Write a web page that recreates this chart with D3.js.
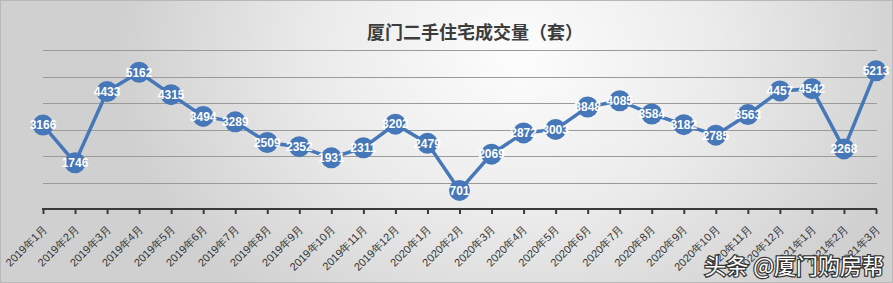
<!DOCTYPE html>
<html lang="zh">
  <head>
    <meta charset="UTF-8" />
    <title>厦门二手住宅成交量</title>
    <style>
      body { margin: 0; }
      #viz { width: 893px; height: 283px; }
    </style>
  </head>
  <body>
    <div id="viz"></div>
    <script src="https://cdnjs.cloudflare.com/ajax/libs/d3/7.8.5/d3.min.js"></script>
    <script>
      // months on the category axis
      let months = [
        "2019年1月", "2019年2月", "2019年3月", "2019年4月", "2019年5月", "2019年6月",
        "2019年7月", "2019年8月", "2019年9月", "2019年10月", "2019年11月", "2019年12月",
        "2020年1月", "2020年2月", "2020年3月", "2020年4月", "2020年5月", "2020年6月",
        "2020年7月", "2020年8月", "2020年9月", "2020年10月", "2020年11月", "2020年12月",
        "2021年1月", "2021年2月", "2021年3月"
      ];
      // second-hand housing deals (units)
      let deals = [
        3166, 1746, 4433, 5162, 4315, 3494, 3289, 2509, 2352, 1931, 2311, 3202,
        2479, 701, 2069, 2872, 3003, 3848, 4085, 3584, 3182, 2785, 3563, 4457,
        4542, 2268, 5213
      ];
      let gridTicks = [1000, 2000, 3000, 4000, 5000, 6000];

      let width = 893,
          height = 283,
          blue = "#4677b8";

      let data = months.map((m, i) => ({ month: m, value: deals[i] }));

      let svg = d3.select("#viz")
        .append("svg")
        .attr("width", width)
        .attr("height", height)
        .style("font-family", "'Noto Sans CJK SC', 'Noto Sans', sans-serif");

      let defs = svg.append("defs");
      let grad = defs.append("radialGradient")
        .attr("id", "bg")
        .attr("cx", "58%")
        .attr("cy", "20%")
        .attr("r", "75%")
        .attr("gradientTransform", "translate(0.58,0.2) scale(0.6,1.5) translate(-0.58,-0.2)");
      grad.append("stop").attr("offset", "0%").attr("stop-color", "#fdfdfd");
      grad.append("stop").attr("offset", "50%").attr("stop-color", "#ebebeb");
      grad.append("stop").attr("offset", "100%").attr("stop-color", "#d0d0d0");

      svg.append("rect")
        .attr("x", 0.5)
        .attr("y", 0.5)
        .attr("width", width - 1)
        .attr("height", height - 1)
        .attr("fill", "url(#bg)")
        .attr("stroke", "#b8b8b8");

      let x = d3.scalePoint()
        .domain(months)
        .range([43, 876]);

      let y = d3.scaleLinear()
        .domain([0, 6000])
        .range([209, 50]);

      // title
      svg.append("text")
        .attr("x", 475)
        .attr("y", 39)
        .attr("text-anchor", "middle")
        .style("font-size", "18px")
        .style("font-weight", "bold")
        .style("fill", "#3c3c3c")
        .text("厦门二手住宅成交量（套）");

      // grid lines
      svg.append("g")
        .selectAll("line")
        .data(gridTicks)
        .join("line")
        .attr("x1", 43)
        .attr("x2", 877)
        .attr("y1", d => Math.round(y(d)) + 0.5)
        .attr("y2", d => Math.round(y(d)) + 0.5)
        .attr("stroke", "#9a9a9a")
        .attr("stroke-width", 1);

      // category axis
      let xAxis = svg.append("g")
        .attr("transform", `translate(0, ${y(0)})`)
        .call(d3.axisBottom(x).tickSizeOuter(0).tickSizeInner(5).tickPadding(0));

      xAxis.select(".domain")
        .attr("stroke", "#3a3a3a")
        .attr("stroke-width", 2)
        .attr("d", `M${x(months[0]) - 1},0H${x(months[months.length - 1]) + 1}`);

      xAxis.selectAll(".tick line")
        .attr("stroke", "#3a3a3a")
        .attr("stroke-width", 2);

      xAxis.selectAll(".tick text")
        .attr("x", 0)
        .attr("y", 0)
        .attr("dy", 0)
        .attr("text-anchor", "end")
        .attr("transform", "translate(4, 21) rotate(-45)")
        .style("font-size", "11px")
        .style("fill", "#333");

      // line
      let line = d3.line()
        .x(d => x(d.month))
        .y(d => y(d.value));

      svg.append("path")
        .datum(data)
        .attr("fill", "none")
        .attr("stroke", blue)
        .attr("stroke-width", 3.5)
        .attr("d", line);

      // markers and labels
      let pts = svg.append("g")
        .selectAll("g")
        .data(data)
        .join("g")
        .attr("transform", d => `translate(${x(d.month)}, ${y(d.value)})`);

      pts.append("circle")
        .attr("r", 10.5)
        .attr("fill", blue);

      pts.append("text")
        .attr("text-anchor", "middle")
        .attr("dy", "0.36em")
        .style("font-family", "'Liberation Sans', Arial, sans-serif")
        .style("font-size", "12px")
        .style("font-weight", "600")
        .style("fill", "#fff")
        .text(d => d.value);

      // source watermark
      svg.append("text")
        .attr("x", 884)
        .attr("y", 274)
        .attr("text-anchor", "end")
        .style("font-size", "22px")
        .style("fill", "#fff")
        .style("stroke", "#333")
        .style("stroke-width", 2.5)
        .style("paint-order", "stroke")
        .text("头条 @厦门购房帮");
    </script>
  </body>
</html>
